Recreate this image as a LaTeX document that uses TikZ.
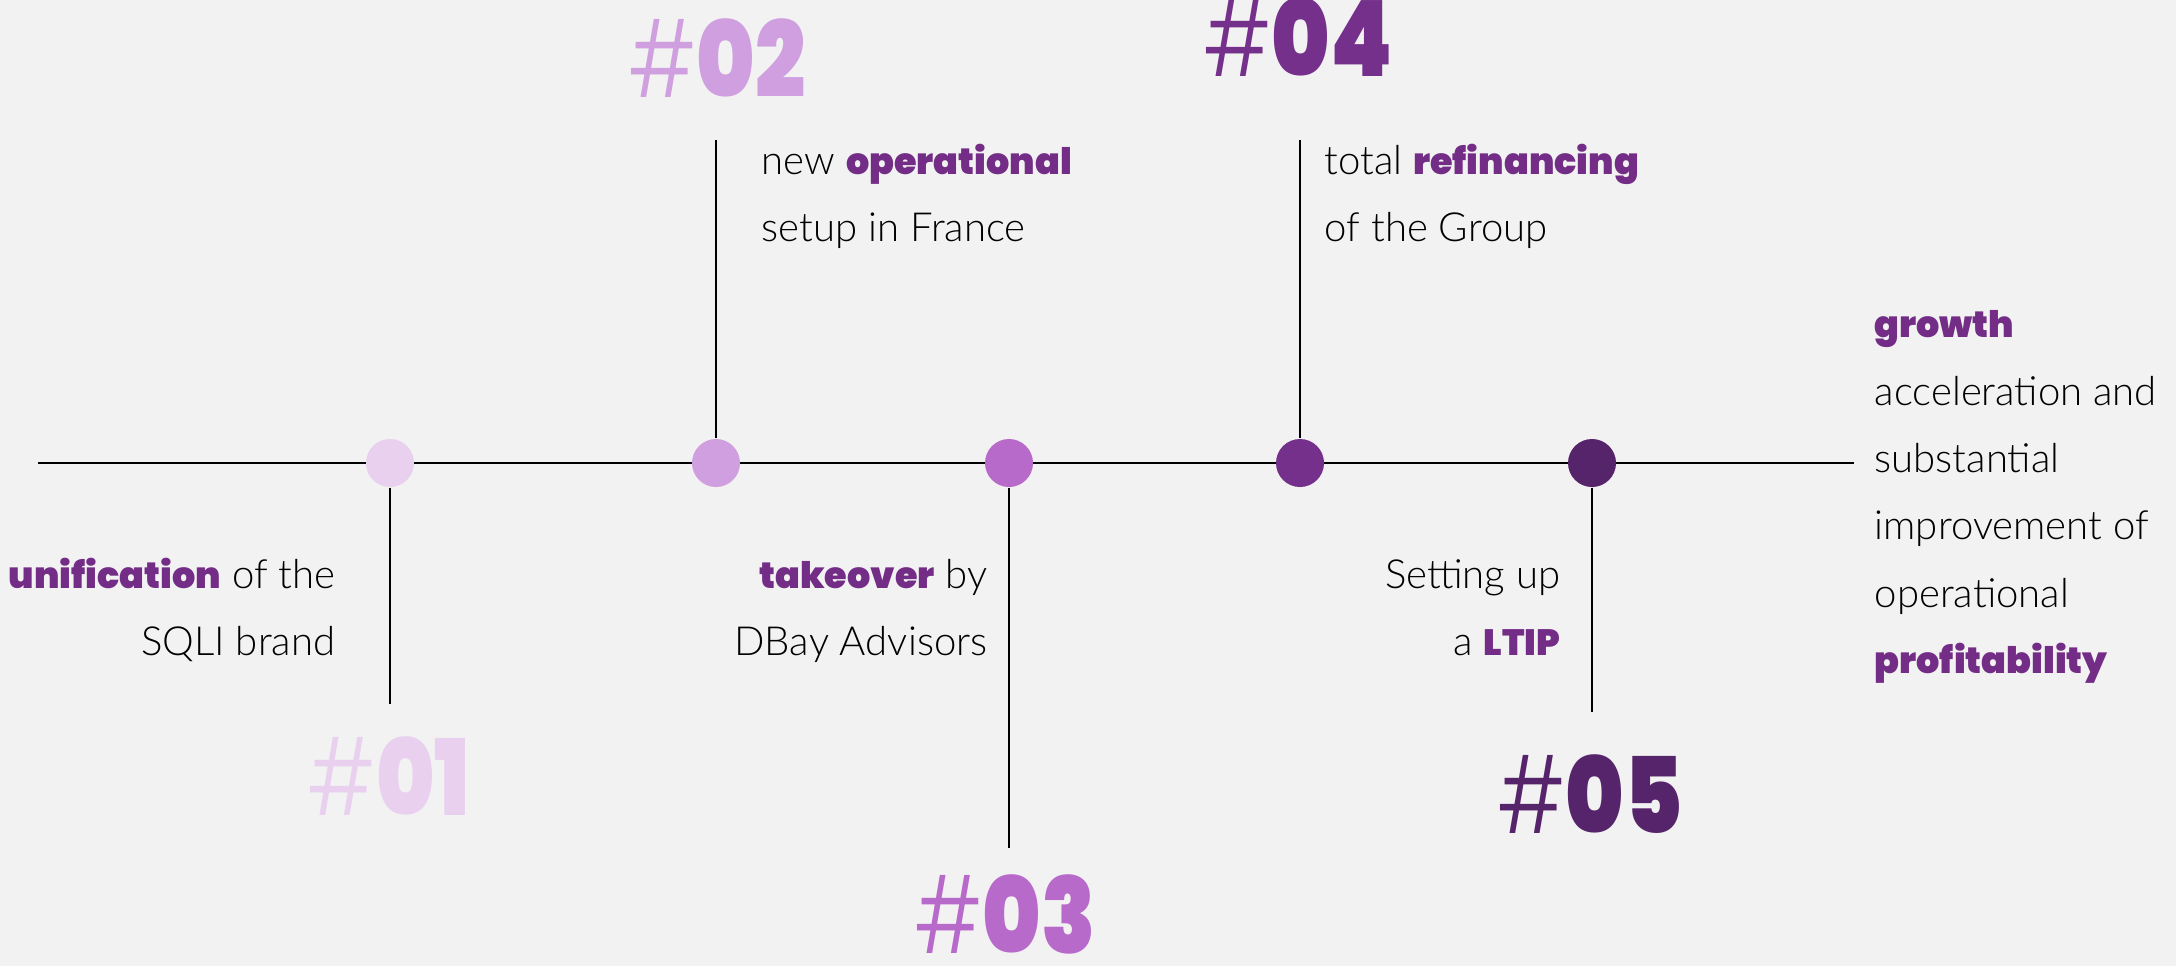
\documentclass[tikz,border=0pt]{standalone}
\usepackage{fontspec}
\IfFontExistsTF{Lato Light}{\setmainfont{Lato Light}}{\setmainfont{Lato}}
\IfFontExistsTF{Poppins Black}{\def\heavyname{Poppins Black}}{%
  \IfFontExistsTF{Poppins ExtraBold}{\def\heavyname{Poppins ExtraBold}}{\def\heavyname{Poppins Bold}}}
\IfFontExistsTF{Poppins Light}{\def\hashname{Poppins Light}}{\def\hashname{Poppins}}
\newfontfamily\heavyfont{\heavyname}
\newfontfamily\digitfont{\heavyname}[FakeStretch=0.84]
\newfontfamily\hashfont{\hashname}[FakeStretch=0.8]
\usetikzlibrary{positioning}

\definecolor{paper}{HTML}{F2F2F2}
\definecolor{accent}{HTML}{742D86}
\definecolor{stepA}{HTML}{E8D0EE}
\definecolor{stepB}{HTML}{D09FDF}
\definecolor{stepC}{HTML}{B86ACB}
\definecolor{stepD}{HTML}{74308A}
\definecolor{stepE}{HTML}{56246A}

\newcommand\keyword[1]{{\heavyfont\fontsize{10.4}{12}\selectfont\color{accent}#1}}
\newcommand\milestone[1]{{\hashfont\#}{\digitfont #1}}

\begin{document}
\begin{tikzpicture}[x=0.01cm,y=-0.01cm,
    dot/.style={circle,fill=#1,minimum size=0.48cm,inner sep=0pt},
    stem/.style={line width=0.6pt},
    num/.style={font=\fontsize{30}{30}\selectfont,text=#1,inner sep=0pt,anchor=base},
    txt/.style={font=\fontsize{11.4}{13}\selectfont,inner sep=0pt}]
  \useasboundingbox (0,0) rectangle (2176,966);
  \fill[paper] (0,0) rectangle (2176,966);

  % timeline
  \coordinate (start) at (38,463);
  \coordinate (end) at (1854,463);
  \draw[line width=0.8pt] (start) -- (end);

  \node[dot=stepA] (d1) at (390,463) {};
  \node[dot=stepB] (d2) at (716,463) {};
  \node[dot=stepC] (d3) at (1009,463) {};
  \node[dot=stepD] (d4) at (1300,463) {};
  \node[dot=stepE] (d5) at (1592,463) {};

  \coordinate (s1) at (390,704);
  \coordinate (s2) at (716,140);
  \coordinate (s3) at (1009,848);
  \coordinate (s4) at (1300,140);
  \coordinate (s5) at (1592,712);
  \draw[stem] (d1) -- (s1);
  \draw[stem] (d2) -- (s2);
  \draw[stem] (d3) -- (s3);
  \draw[stem] (d4) -- (s4);
  \draw[stem] (d5) -- (s5);

  % numbers
  \node[num=stepA] (n1) at (389,815) {\milestone{01}};
  \node[num=stepB] (n2) at (717,97) {\milestone{02}};
  \node[num=stepC] (n3) at (1005,953) {\milestone{03}};
  \node[num=stepD] (n4) at (1298,76) {\milestone{04}};
  \node[num=stepE] (n5) at (1590,833) {\milestone{05}};

  % texts
  \node[txt,anchor=base east] (t1a) at (336,588) {\keyword{unification} of the};
  \node[txt,anchor=base east] (t1b) at (336,655) {SQLI brand};
  \node[txt,anchor=base west] (t2a) at (761,174) {new \keyword{operational}};
  \node[txt,anchor=base west] (t2b) at (761,241) {setup in France};
  \node[txt,anchor=base east] (t3a) at (988,588) {\keyword{takeover} by};
  \node[txt,anchor=base east] (t3b) at (988,655) {DBay Advisors};
  \node[txt,anchor=base west] (t4a) at (1324,174) {total \keyword{refinancing}};
  \node[txt,anchor=base west] (t4b) at (1324,241) {of the Group};
  \node[txt,anchor=base east] (t5a) at (1561,588) {Setting up};
  \node[txt,anchor=base east] (t5b) at (1561,655) {a \keyword{LTIP}};

  \node[txt,anchor=base west] (r1) at (1874,337) {\keyword{growth}};
  \node[txt,anchor=base west] (r2) at (1874,405) {acceleration and};
  \node[txt,anchor=base west] (r3) at (1874,472) {substantial};
  \node[txt,anchor=base west] (r4) at (1874,539) {improvement of};
  \node[txt,anchor=base west] (r5) at (1874,607) {operational};
  \node[txt,anchor=base west] (r6) at (1874,673) {\keyword{profitability}};
\end{tikzpicture}
\end{document}
